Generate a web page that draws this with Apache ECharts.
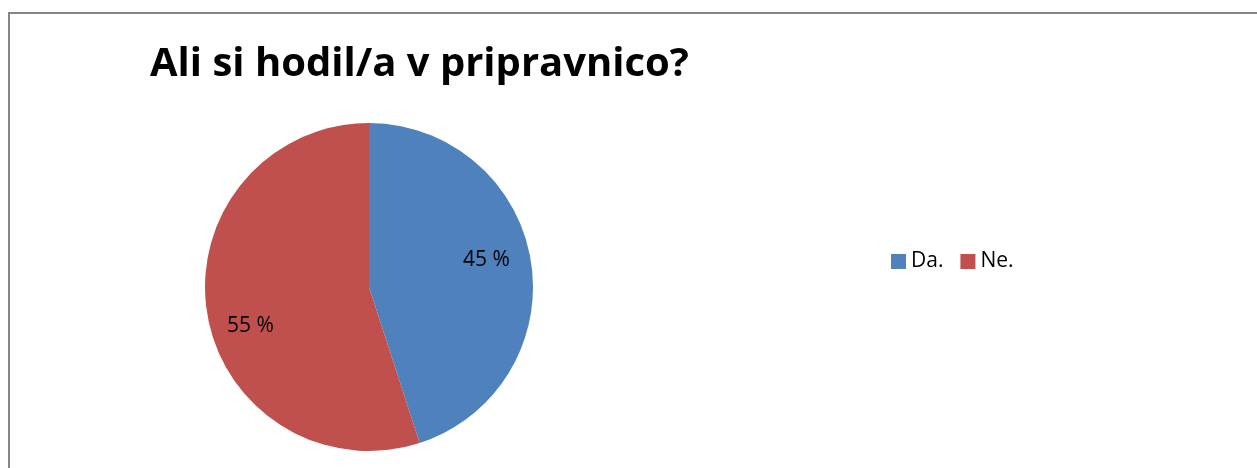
<!DOCTYPE html>
<html><head><meta charset="utf-8">
<script src="https://cdn.jsdelivr.net/npm/echarts@6/dist/echarts.min.js"></script>
<style>html,body{margin:0;padding:0;background:#fff}#c{width:1257px;height:468px}</style>
</head><body><div id="c"></div>
<script>
const titleText = 'Ali si hodil/a v pripravnico?';
const categories = ['Da.', 'Ne.'];
const values = [45, 55];
const colors = ['#4F81BD', '#C0504D'];

const labelOffsets = [[-4, -8], [3, 20]];
const chart = echarts.init(document.getElementById('c'));
const data = categories.map((n, i) => ({ name: n, value: values[i], itemStyle: { color: colors[i] } }));
chart.setOption({
  animation: false,
  title: { text: titleText, left: 145, top: 40,
    textStyle: { fontFamily: 'Open Sans', fontWeight: 'bold', fontSize: 40, color: '#000' } },
  legend: { data: categories, left: 886, top: 246, itemWidth: 15, itemHeight: 15, itemGap: 17,
    icon: 'rect', textStyle: { fontFamily: 'Open Sans', fontSize: 21, color: '#000' } },
  graphic: [{ type: 'polyline', silent: true,
    shape: { points: [[9, 468], [9, 13], [1257, 13]] },
    style: { stroke: '#868686', lineWidth: 2, fill: null } }],
  series: [{
    type: 'pie', center: [369, 287], radius: 164, startAngle: 90, clockwise: true,
    label: { show: false }, labelLine: { show: false }, data: data, silent: true
  }, {
    type: 'pie', center: [369, 287], radius: [76, 164], startAngle: 90, clockwise: true,
    silent: true, labelLine: { show: false },
    label: { show: true, position: 'inside', formatter: '{c} %', fontFamily: 'Open Sans', fontSize: 21, color: '#000' },
    itemStyle: { color: 'rgba(0,0,0,0)' },
    data: categories.map((n, i) => ({ name: n, value: values[i], label: { offset: labelOffsets[i] } }))
  }]
});
</script></body></html>
